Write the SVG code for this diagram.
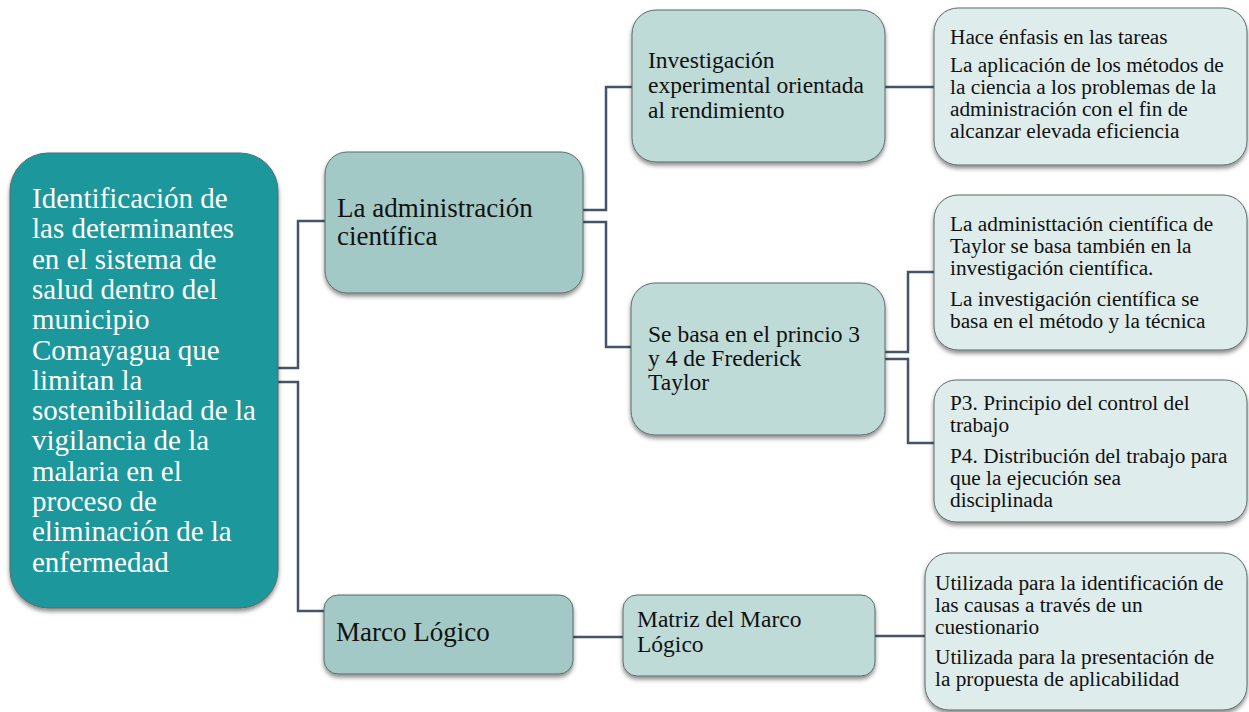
<svg xmlns="http://www.w3.org/2000/svg" width="1249" height="712" viewBox="0 0 1249 712">
<defs>
<filter id="sh" x="-10%" y="-10%" width="120%" height="125%">
<feDropShadow dx="0" dy="3" stdDeviation="2" flood-color="#000" flood-opacity="0.45"/>
</filter>
<style>
.box{stroke:#5b6b6b;stroke-width:1;filter:url(#sh)}
.root{fill:#1b979c}
.l1{fill:#a2c9c6}
.l2{fill:#bfdbd8}
.l3{fill:#deeceb}
.tx{font-family:'Liberation Serif','Times New Roman',serif;fill:#111}
.tr{fill:#fff;font-size:29px}
.t1{font-size:27px}
.t2{font-size:23.5px}
.t3{font-size:21.3px}
.c{fill:none;stroke:#44546a;stroke-width:2.5}
</style>
</defs>
<rect width="1249" height="712" fill="#fff"/>
<g id="connectors">
<path class="c" d="M278 368 H298 V221 H325"/>
<path class="c" d="M278 382 H298 V611 H324"/>
<path class="c" d="M583 210 H606 V87 H632"/>
<path class="c" d="M583 222 H606 V347 H631"/>
<path class="c" d="M885 87 H934"/>
<path class="c" d="M885 352 H908 V272 H934"/>
<path class="c" d="M885 359 H908 V443 H934"/>
<path class="c" d="M573 637 H623"/>
<path class="c" d="M875 636 H925"/>
</g>
<g id="root">
<rect class="box root" x="10" y="153" width="268" height="455" rx="38"/>
<text class="tx tr">
<tspan x="32" y="208">Identificación de</tspan>
<tspan x="32" y="238.3">las determinantes</tspan>
<tspan x="32" y="268.6">en el sistema de</tspan>
<tspan x="32" y="298.9">salud dentro del</tspan>
<tspan x="32" y="329.2">municipio</tspan>
<tspan x="32" y="359.5">Comayagua que</tspan>
<tspan x="32" y="389.8">limitan la</tspan>
<tspan x="32" y="420.1">sostenibilidad de la</tspan>
<tspan x="32" y="450.4">vigilancia de la</tspan>
<tspan x="32" y="480.7">malaria en el</tspan>
<tspan x="32" y="511">proceso de</tspan>
<tspan x="32" y="541.3">eliminación de la</tspan>
<tspan x="32" y="571.6">enfermedad</tspan>
</text>
</g>
<g id="admin">
<rect class="box l1" x="325" y="152" width="258" height="141" rx="22"/>
<text class="tx t1"><tspan x="337" y="217">La administración</tspan><tspan x="337" y="245">científica</tspan></text>
</g>
<g id="marco">
<rect class="box l1" x="324" y="595" width="249" height="79" rx="14"/>
<text class="tx t1"><tspan x="336" y="641">Marco Lógico</tspan></text>
</g>
<g id="investigacion">
<rect class="box l2" x="632" y="10" width="253" height="152" rx="24"/>
<text class="tx t2"><tspan x="648" y="68">Investigación</tspan><tspan x="648" y="93">experimental orientada</tspan><tspan x="648" y="118">al rendimiento</tspan></text>
</g>
<g id="sebasa">
<rect class="box l2" x="631" y="283" width="254" height="152" rx="24"/>
<text class="tx t2"><tspan x="648" y="342">Se basa en el princio 3</tspan><tspan x="648" y="366">y 4 de Frederick</tspan><tspan x="648" y="390">Taylor</tspan></text>
</g>
<g id="matriz">
<rect class="box l2" x="623" y="595" width="252" height="81" rx="14"/>
<text class="tx t2"><tspan x="637" y="627">Matriz del Marco</tspan><tspan x="637" y="652">Lógico</tspan></text>
</g>
<g id="hace">
<rect class="box l3" x="934" y="8" width="313" height="157" rx="24"/>
<text class="tx t3"><tspan x="950" y="44">Hace énfasis en las tareas</tspan><tspan x="950" y="72">La aplicación de los métodos de</tspan><tspan x="950" y="94">la ciencia a los problemas de la</tspan><tspan x="950" y="116">administración con el fin de</tspan><tspan x="950" y="138">alcanzar elevada eficiencia</tspan></text>
</g>
<g id="taylor">
<rect class="box l3" x="934" y="195" width="313" height="155" rx="24"/>
<text class="tx t3"><tspan x="950" y="231">La administtación científica de</tspan><tspan x="950" y="253">Taylor se basa también en la</tspan><tspan x="950" y="275">investigación científica.</tspan><tspan x="950" y="306">La investigación científica se</tspan><tspan x="950" y="328">basa en el método y la técnica</tspan></text>
</g>
<g id="principios">
<rect class="box l3" x="934" y="380" width="313" height="142" rx="22"/>
<text class="tx t3"><tspan x="950" y="410">P3. Principio del control del</tspan><tspan x="950" y="432">trabajo</tspan><tspan x="950" y="463">P4. Distribución del trabajo para</tspan><tspan x="950" y="485">que la ejecución sea</tspan><tspan x="950" y="507">disciplinada</tspan></text>
</g>
<g id="utilizada">
<rect class="box l3" x="925" y="553" width="322" height="157" rx="24"/>
<text class="tx t3"><tspan x="935" y="590">Utilizada para la identificación de</tspan><tspan x="935" y="612">las causas a través de un</tspan><tspan x="935" y="634">cuestionario</tspan><tspan x="935" y="664">Utilizada para la presentación de</tspan><tspan x="935" y="686">la propuesta de aplicabilidad</tspan></text>
</g>
</svg>
